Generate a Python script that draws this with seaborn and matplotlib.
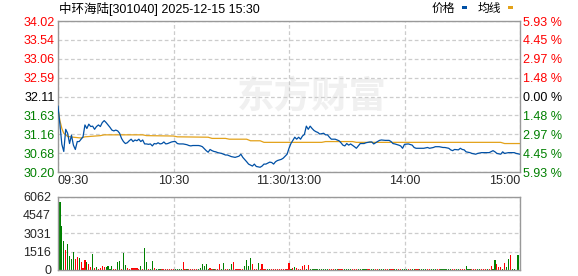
import numpy as np
import pandas as pd
import matplotlib
matplotlib.use("Agg")
import matplotlib.pyplot as plt
from matplotlib.patches import Rectangle
import seaborn as sns

# ---------------- data ----------------
title_text = "中环海陆[301040] 2025-12-15 15:30"
legend_labels = ["价格", "均线"]
watermark_text = "东方财富"

price_minutes = list(range(0, 82)) + [
    82, 83, 85, 87, 88, 90, 92, 94, 95, 96, 98, 99, 101, 102, 103, 105, 106, 107, 108, 110,
    111, 112, 113, 114, 116, 117, 118, 119, 120, 121, 122, 123, 124, 125, 126, 127, 128, 129, 130, 131,
    132, 133, 134, 135, 136, 138, 139, 140, 141, 142, 144, 146, 147, 148, 149, 150, 151, 152, 154, 155,
    156, 157, 159, 160, 162, 163, 164, 166, 167, 168, 170, 172, 173, 174, 175, 177, 178, 179, 180, 182,
    184, 185, 186, 188, 190, 192, 193, 195, 196, 198, 200, 201, 203, 204, 205, 206, 208, 209, 210, 211,
    212, 214, 215, 217, 218, 220, 222, 224, 226, 227, 228, 230, 231, 232, 234, 235, 237, 238, 240]
price_values = [
    31.87, 31.40, 30.90, 30.72, 31.28, 31.18, 30.92, 31.13, 30.88, 30.77,
    30.97, 30.97, 31.03, 31.09, 31.39, 31.30, 31.41, 31.35, 31.36, 31.28,
    31.35, 31.39, 31.35, 31.45, 31.50, 31.45, 31.39, 31.33, 31.26, 31.24,
    31.26, 31.24, 31.18, 31.05, 30.97, 30.92, 30.94, 30.99, 31.03, 30.97,
    31.01, 30.99, 31.03, 30.97, 31.01, 30.91, 30.91, 30.90, 30.91, 30.86,
    30.92, 30.91, 30.94, 30.91, 30.92, 30.96, 30.91, 30.92, 30.94, 30.96,
    30.97, 30.97, 30.92, 30.91, 30.91, 30.91, 30.90, 30.89, 30.87, 30.86,
    30.87, 30.87, 30.87, 30.87, 30.86, 30.84, 30.79, 30.74, 30.70, 30.77,
    30.74, 30.72,
    30.71, 30.69, 30.67, 30.63, 30.63, 30.59, 30.57, 30.60, 30.65, 30.57,
    30.46, 30.40, 30.35, 30.40, 30.34, 30.32, 30.35, 30.40, 30.40, 30.45,
    30.44, 30.40, 30.46, 30.49, 30.52, 30.55, 30.60, 30.65, 30.80, 30.92,
    31.00, 31.08, 31.03, 31.08, 31.03, 31.11, 31.15, 31.36, 31.28, 31.36,
    31.30, 31.25, 31.22, 31.20, 31.16, 31.18, 31.14, 31.14, 31.08, 31.03,
    31.03, 30.99, 30.94, 30.88, 30.86, 30.92, 30.88, 30.91, 30.84, 30.80,
    30.86, 30.92, 30.92, 30.94, 30.96, 30.96, 30.91, 30.97, 31.00, 31.01,
    31.00, 31.00, 30.97, 30.92, 30.91, 30.88, 30.86, 30.80, 30.90, 30.91,
    30.88, 30.82, 30.80, 30.80, 30.80, 30.82, 30.80, 30.82, 30.84, 30.84,
    30.82, 30.82, 30.80, 30.76, 30.74, 30.77, 30.76, 30.80, 30.77, 30.76,
    30.71, 30.69, 30.67, 30.65, 30.67, 30.69, 30.69, 30.69, 30.74, 30.71,
    30.67, 30.65, 30.71, 30.67, 30.69, 30.69, 30.69, 30.67, 30.65]

avg_minutes = [0, 1, 2, 3, 5, 8, 12, 14, 22, 24, 44, 46, 60, 62, 78, 80, 87, 89, 98, 100,
               105, 107, 137, 139, 153, 155, 230, 232, 240]
avg_values = [31.80, 31.50, 31.30, 31.18, 31.10, 31.08, 31.06, 31.09, 31.12, 31.14,
              31.14, 31.12, 31.11, 31.09, 31.08, 31.05, 31.05, 31.03, 31.03, 30.99,
              30.99, 30.95, 30.95, 30.97, 30.97, 30.95, 30.95, 30.92, 30.92]

volume_values = [
    5620, 3620, 2380, 1640, 2140, 1150, 900, 1480, 900, 1070,
    990, 660, 160, 820, 660, 490, 250, 1310, 160, 250,
    80, 160, 330, 250, 250, 330, 80, 330, 80, 80,
    660, 740, 80, 1400, 410, 160, 80, 160, 160, 160,
    160, 80, 330, 80, 1800, 660, 80, 80, 740, 160,
    80, 80, 80, 80, 80, 80, 80, 80, 80, 80,
    80, 80, 80, 80, 660, 80, 80, 80, 80, 80,
    80, 80, 80, 160, 500, 330, 500, 80, 160, 80,
    80, 80, 80, 490, 80, 600, 80, 80, 80, 490,
    660, 80, 80, 80, 80, 80, 330, 820, 360, 1010,
    490, 80, 80, 575, 80, 490, 80, 80, 80, 80,
    80, 80, 80, 80, 80, 80, 80, 80, 80, 575,
    80, 190, 250, 140, 80, 80, 330, 410, 80, 410,
    80, 80, 80, 80, 80, 80, 80, 80, 80, 120,
    80, 80, 80, 80, 80, 80, 80, 80, 80, 80,
    80, 80, 80, 80, 80, 80, 80, 80, 80, 80,
    80, 80, 80, 80, 80, 80, 80, 80, 80, 80,
    80, 80, 80, 80, 80, 80, 80, 80, 80, 80,
    80, 80, 80, 80, 80, 80, 80, 80, 80, 80,
    80, 80, 80, 80, 80, 80, 80, 80, 80, 80,
    80, 80, 80, 80, 80, 80, 80, 80, 80, 80,
    80, 330, 80, 80, 80, 80, 80, 80, 80, 80,
    80, 80, 80, 80, 330, 80, 820, 490, 250, 250,
    80, 600, 270, 900, 1230, 80, 80, 0, 1230, 0]
volume_dirs = list(
    "GGGRGGGGRR" "GRRRGRRGRG" "RRRRGGGGRR" "GGRGGRRRRR" "RRGRGGRGGR"
    "GGGRRRRRRR" "GGGGRRGRRR" "RRGGGGGGRR" "GRRRGGRRGG" "RRRRRRGGGG"
    "RRRGRRRRGG" "RRRRRRRRRR" "GRGRRRRRGR" "GGGGGGGGGG" "RRRGGRRRGG"
    "GGRRRGGGGG" "RRGGRRGGGR" "RGRRGGRRGG" "GRRGGRRGGG" "GRRGGGRRGG"
    "GGGGRRGGRR" "RGGGRRRGGR" "RRGRRGGRRR" "GRGGRGGGGG")

price_ticks = [34.02, 33.54, 33.06, 32.59, 32.11, 31.63, 31.16, 30.68, 30.20]
price_tick_labels = ["34.02", "33.54", "33.06", "32.59", "32.11", "31.63", "31.16", "30.68", "30.20"]
pct_labels = ["5.93 %", "4.45 %", "2.97 %", "1.48 %", "0.00 %", "1.48 %", "2.97 %", "4.45 %", "5.93 %"]
level_side = ["up", "up", "up", "up", "flat", "down", "down", "down", "down"]
vol_ticks = [0, 1516, 3031, 4547, 6062]
time_ticks = [0, 60, 120, 180, 240]
time_labels = ["09:30", "10:30", "11:30/13:00", "14:00", "15:00"]

# ---------------- style ----------------
sns.set_style("white")
plt.rcParams["font.family"] = ["Liberation Sans", "Noto Sans CJK SC", "DejaVu Sans"]

RED = "#ff0000"
GREEN = "#008000"
BLUE = "#0050a5"
GOLD = "#e3a21a"
SPINE = "#999999"
GRID = "#cccccc"
side_color = {"up": RED, "flat": "#000000", "down": GREEN}

W, H = 578, 276
fig = plt.figure(figsize=(W / 100, H / 100), dpi=100)

def frac_box(x0, y0, x1, y1):
    return [x0 / W, 1 - y1 / H, (x1 - x0) / W, (y1 - y0) / H]

ax = fig.add_axes(frac_box(58, 21, 520, 172))
axv = fig.add_axes(frac_box(58, 196.5, 520, 270))

# watermark
ax.text(0.55, 0.5, watermark_text, transform=ax.transAxes, ha="center", va="center",
        fontsize=27, fontweight="bold", color="#f0f0f0", family=["Noto Sans CJK SC"], zorder=0)

# price + average lines
sns.lineplot(x=avg_minutes, y=avg_values, ax=ax, color=GOLD, linewidth=0.9, zorder=3)
sns.lineplot(x=price_minutes, y=price_values, ax=ax, color=BLUE, linewidth=0.9, zorder=4)

# volume bars
vol_df = pd.DataFrame({"pos": list(range(1, len(volume_values) + 1)),
                       "vol": volume_values, "dir": volume_dirs})
sns.barplot(data=vol_df, x="pos", y="vol", hue="dir", palette={"R": RED, "G": GREEN},
            native_scale=True, dodge=False, width=0.6, errorbar=None, legend=False,
            saturation=1, linewidth=0, antialiased=False, ax=axv)

for a in (ax, axv):
    a.set_xlim(0, 240)
    a.set_xticks(time_ticks)
    a.set_xlabel("")
    a.set_ylabel("")
    a.grid(True, color=GRID, linestyle=(0, (3, 2)), linewidth=0.9)
    a.set_axisbelow(True)
    for s in a.spines.values():
        s.set_color(SPINE)
        s.set_linewidth(1.0)
    a.tick_params(length=0)

ax.set_ylim(price_ticks[-1], price_ticks[0])
ax.set_yticks(price_ticks)
ax.set_yticklabels(price_tick_labels, fontsize=9)
ax.tick_params(axis="y", pad=2.5)
for lbl, side in zip(ax.get_yticklabels(), level_side):
    lbl.set_color(side_color[side])

ax.set_xticklabels(time_labels, fontsize=9)
ax.tick_params(axis="x", pad=2.5)
xl = ax.get_xticklabels()
xl[0].set_horizontalalignment("left")
xl[-1].set_horizontalalignment("right")

ax2 = ax.twinx()
ax2.set_ylim(price_ticks[-1], price_ticks[0])
ax2.set_yticks(price_ticks)
ax2.set_yticklabels(pct_labels, fontsize=9)
ax2.tick_params(length=0, pad=2.5)
for lbl, side in zip(ax2.get_yticklabels(), level_side):
    lbl.set_color(side_color[side])
for s in ax2.spines.values():
    s.set_visible(False)
ax2.grid(False)

axv.set_ylim(0, vol_ticks[-1])
axv.set_yticks(vol_ticks)
axv.set_yticklabels([str(v) for v in vol_ticks], fontsize=9)
axv.tick_params(axis="y", pad=5)
axv.set_xticklabels([])

# title and legend
fig.text(59 / W, 1 - 9 / H, title_text, ha="left", va="center", fontsize=9, color="#000000")
fig.text(432 / W, 1 - 9 / H, legend_labels[0], ha="left", va="center", fontsize=8.5, color="#000000")
fig.text(478 / W, 1 - 9 / H, legend_labels[1], ha="left", va="center", fontsize=8.5, color="#000000")
fig.add_artist(Rectangle((462 / W, 1 - 8.5 / H), 5 / W, 2.5 / H, transform=fig.transFigure,
                         facecolor=BLUE, edgecolor="none"))
fig.add_artist(Rectangle((508 / W, 1 - 8.5 / H), 5 / W, 2.5 / H, transform=fig.transFigure,
                         facecolor=GOLD, edgecolor="none"))

fig.savefig("out.png", dpi=100)
